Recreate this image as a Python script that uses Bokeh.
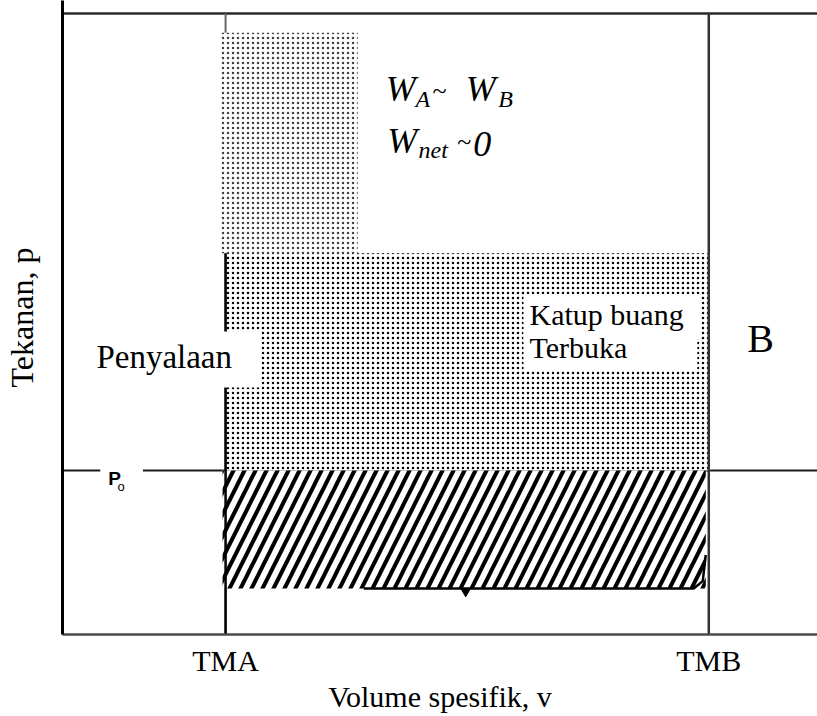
from bokeh.plotting import figure
from bokeh.models import Range1d, FixedTicker, Label, ColumnDataSource
from bokeh.embed import file_html
from bokeh.resources import INLINE

# ---------------- data (schematic units) ----------------
v_min, v_max = 0.0, 100.0
p_min, p_max = 0.0, 102.1
v_tma = 21.6          # TMA
v_tmb = 85.6          # TMB
p_top = 100.0         # upper frame line
p_o = 26.4            # P_o (ambient pressure)
p_blowdown = 61.4     # level of exhaust-valve-open (blowdown) area
p_peak = 96.9         # top of the near-TMA column
p_pump = 7.4          # bottom of pumping (hatched) area

tick_positions = [v_tma, v_tmb]
tick_labels = ["TMA", "TMB"]

# areas: left, right, bottom, top
column_area = dict(left=[20.9], right=[39.1], bottom=[p_blowdown], top=[p_peak])
blowdown_area = dict(left=[21.75], right=[85.8], bottom=[p_o], top=[p_blowdown])
pumping_area = dict(left=[21.2], right=[85.2], bottom=[p_pump], top=[p_o])

# exhaust stroke line at the bottom of the pumping loop
exhaust_v = [39.9, 83.6, 84.8, 85.2]
exhaust_p = [7.4, 7.4, 8.6, 12.8]
arrow_v = [53.4]
arrow_p = [6.9]

# texts
w_big_text = ["W", "W", "W", "0"]
w_big_x = [42.8, 53.4, 43.0, 54.4]
w_big_y = [87.9, 87.9, 79.4, 79.0]
w_sub_text = ["A", "B", "net"]
w_sub_x = [46.75, 57.7, 47.15]
w_sub_y = [86.3, 86.3, 78.1]
w_tilde_text = ["~", "~"]
w_tilde_x = [49.0, 52.3]
w_tilde_y = [87.6, 79.4]

SERIF = "Times"
SANS = "Arial"

p = figure(width=817, height=716, output_backend="svg", toolbar_location=None,
           x_range=Range1d(v_min, v_max), y_range=Range1d(p_min, p_max),
           min_border_left=62, min_border_right=0, min_border_top=0,
           min_border_bottom=82)
p.outline_line_color = None
p.grid.visible = False
p.background_fill_color = "white"
p.border_fill_color = "white"

# axes
xa = p.xaxis[0]
xa.ticker = FixedTicker(ticks=tick_positions)
xa.major_label_overrides = {t: l for t, l in zip(tick_positions, tick_labels)}
xa.major_tick_line_color = None
xa.minor_tick_line_color = None
xa.major_tick_out = 0
xa.major_tick_in = 0
xa.major_label_standoff = 9
xa.major_label_text_font = SERIF
xa.major_label_text_font_style = "normal"
xa.major_label_text_font_size = "30px"
xa.major_label_text_color = "black"
xa.axis_label = "Volume spesifik, v"
xa.axis_label_text_font = SERIF
xa.axis_label_text_font_style = "normal"
xa.axis_label_text_font_size = "30px"
xa.axis_label_text_color = "black"
xa.axis_label_standoff = 0
xa.axis_line_color = "#4a4a4a"
xa.axis_line_width = 2.5

ya = p.yaxis[0]
ya.ticker = FixedTicker(ticks=[])
ya.major_tick_line_color = None
ya.minor_tick_line_color = None
ya.major_tick_out = 0
ya.major_label_standoff = 0
ya.axis_label = "Tekanan, p"
ya.axis_label_text_font = SERIF
ya.axis_label_text_font_style = "normal"
ya.axis_label_text_font_size = "32px"
ya.axis_label_text_color = "black"
ya.axis_label_standoff = 23
ya.axis_line_color = "black"
ya.axis_line_width = 3

# frame lines
p.segment(x0=[v_min], y0=[p_top], x1=[v_max], y1=[p_top], line_color="#2a2a2a", line_width=2.5)
p.segment(x0=[v_min], y0=[p_o], x1=[v_max], y1=[p_o], line_color="#1a1a1a", line_width=2)
p.segment(x0=[v_tma], y0=[p_min], x1=[v_tma], y1=[p_top], line_color="#666666", line_width=2)

# areas
p.quad(source=ColumnDataSource(column_area), left="left", right="right", bottom="bottom", top="top",
       fill_color="white", line_color=None, hatch_pattern="dot", hatch_color="#404040",
       hatch_scale=5, hatch_weight=1)
p.quad(source=ColumnDataSource(blowdown_area), left="left", right="right", bottom="bottom", top="top",
       fill_color="white", line_color=None, hatch_pattern="dot", hatch_color="black",
       hatch_scale=5, hatch_weight=1)
p.quad(source=ColumnDataSource(pumping_area), left="left", right="right", bottom="bottom", top="top",
       fill_color="white", line_color=None, hatch_pattern="/", hatch_color="black",
       hatch_scale=22, hatch_weight=4)

# TMA (lower part on top) and TMB lines
p.segment(x0=[v_tma], y0=[p_min], x1=[v_tma], y1=[p_blowdown], line_color="black", line_width=2.5)
p.segment(x0=[v_tmb], y0=[p_min], x1=[v_tmb], y1=[p_top], line_color="#333333", line_width=2.5)

# exhaust stroke
p.line(exhaust_v, exhaust_p, line_color="black", line_width=2.5)
p.scatter(arrow_v, arrow_p, marker="inverted_triangle", size=9, color="black")

# W texts (italic)
for t, x, y in zip(w_big_text, w_big_x, w_big_y):
    p.add_layout(Label(x=x, y=y, text=t, text_font=SERIF, text_font_style="italic",
                       text_font_size="36px", text_color="black", text_baseline="alphabetic"))
for t, x, y in zip(w_sub_text, w_sub_x, w_sub_y):
    p.add_layout(Label(x=x, y=y, text=t, text_font=SERIF, text_font_style="italic",
                       text_font_size="24px", text_color="black", text_baseline="alphabetic"))
for t, x, y in zip(w_tilde_text, w_tilde_x, w_tilde_y):
    p.add_layout(Label(x=x, y=y, text=t, text_font=SERIF, text_font_style="normal",
                       text_font_size="26px", text_color="black", text_baseline="alphabetic"))

# labels
p.add_layout(Label(x=61.06, y=51.2, text="Katup buang", text_font=SERIF, text_font_size="30px",
                   text_color="black", text_baseline="alphabetic",
                   background_fill_color="white",
                   padding=dict(left=6, right=16, top=4, bottom=8)))
p.add_layout(Label(x=61.06, y=45.7, text="Terbuka", text_font=SERIF, text_font_size="30px",
                   text_color="black", text_baseline="alphabetic",
                   background_fill_color="white",
                   padding=dict(left=6, right=70, top=0, bottom=6)))
p.add_layout(Label(x=2.9, y=44.3, text="Penyalaan", text_font=SERIF, text_font_size="33px",
                   text_color="black", text_baseline="alphabetic",
                   background_fill_color="white",
                   padding=dict(left=12, right=28, top=8, bottom=12)))
p.add_layout(Label(x=90.7, y=47.7, text="B", text_font=SERIF, text_font_size="40px",
                   text_color="black", text_baseline="alphabetic"))
p.add_layout(Label(x=5.0, y=25.0, text="P", text_font=SANS, text_font_style="bold",
                   text_font_size="19px", text_color="black", text_baseline="alphabetic",
                   background_fill_color="white",
                   padding=dict(left=8, right=22, top=2, bottom=4)))
p.add_layout(Label(x=7.3, y=23.9, text="o", text_font=SANS, text_font_size="13px",
                   text_color="black", text_baseline="alphabetic"))

open("out.html", "w").write(file_html(p, INLINE))
